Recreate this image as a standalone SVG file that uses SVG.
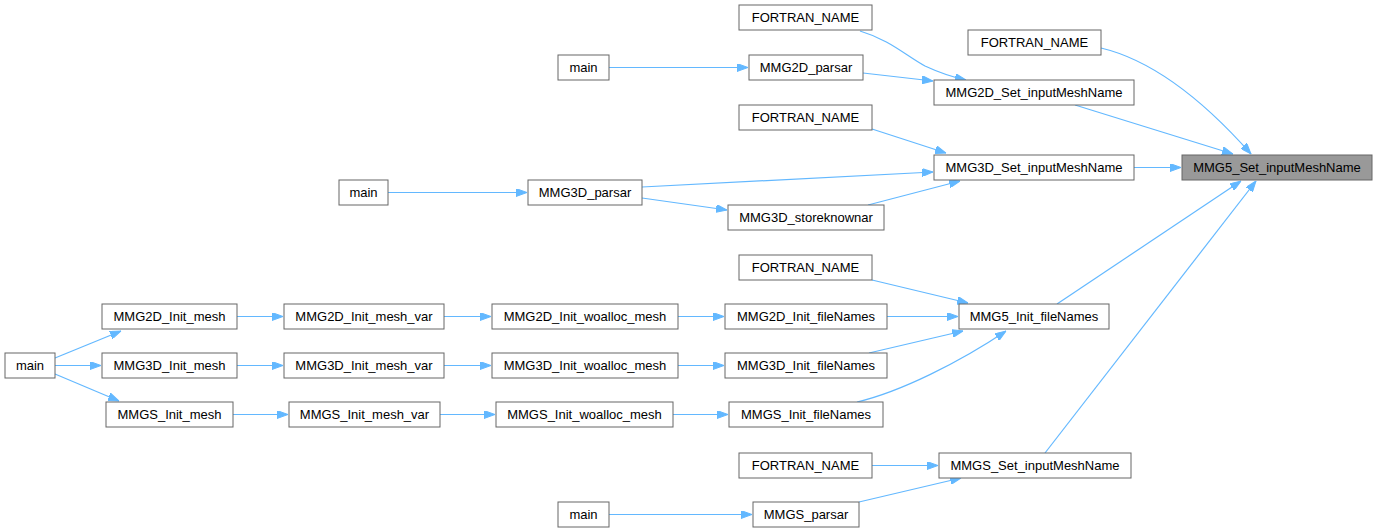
<svg xmlns="http://www.w3.org/2000/svg" width="1377" height="532" viewBox="0 0 1377 532">
<style>
.n rect{fill:#fff;stroke:#666;stroke-width:1}
.n.hl rect{fill:#999}
.n text{font-family:"Liberation Sans",Arial,sans-serif;font-size:13px;fill:#000;text-anchor:middle;dominant-baseline:central}
#edges path{fill:none;stroke:#63b8ff;stroke-width:1.2;marker-end:url(#ah)}
</style>
<defs>
<marker id="ah" viewBox="0 0 11 8" refX="11" refY="4" markerWidth="11" markerHeight="8" markerUnits="userSpaceOnUse" orient="auto">
<path d="M0,0 L11,4 L0,8 z" fill="#63b8ff" stroke="#63b8ff"/>
</marker>
</defs>
<rect width="1377" height="532" fill="#fff"/>
<g id="edges">
<path d="M860,31 C890,40 905,55 925,66 C940,73 952,77 966,80"/>
<path d="M863,73 L933,81"/>
<path d="M609,67.5 L748,67.5"/>
<path d="M1101,48 C1160,62 1212,110 1251,154"/>
<path d="M1075,105 L1233,154"/>
<path d="M872,129 L946,153"/>
<path d="M1134,167.5 L1181,167.5"/>
<path d="M388,192.5 L527,192.5"/>
<path d="M642,187 L933,172"/>
<path d="M642,198 L727,210"/>
<path d="M868,205 L960,181"/>
<path d="M1057,304 L1241,181"/>
<path d="M872,280 L968,303"/>
<path d="M887,316.5 L958,316.5"/>
<path d="M869,353 L963,331"/>
<path d="M857,402 C900,392 960,362 1006,331"/>
<path d="M1045,453 L1256,181"/>
<path d="M872,465.5 L938,465.5"/>
<path d="M859,502 L961,478"/>
<path d="M609,514.5 L752,514.5"/>
<path d="M55,358 L121,331"/>
<path d="M55,365.5 L101,365.5"/>
<path d="M55,374 L119,401"/>
<path d="M237,316.5 L283,316.5"/>
<path d="M237,365.5 L283,365.5"/>
<path d="M233,414.5 L288,414.5"/>
<path d="M444,316.5 L491,316.5"/>
<path d="M444,365.5 L491,365.5"/>
<path d="M440,414.5 L495,414.5"/>
<path d="M678,316.5 L724,316.5"/>
<path d="M678,365.5 L724,365.5"/>
<path d="M673,414.5 L728,414.5"/>
</g>
<g id="n_mmg5_set" class="n hl"><rect x="1182" y="155" width="190" height="25"/><text x="1277" y="167.5">MMG5_Set_inputMeshName</text></g>
<g id="n_fortran1" class="n"><rect x="739" y="5" width="133" height="25"/><text x="805.5" y="17.5">FORTRAN_NAME</text></g>
<g id="n_fortran2" class="n"><rect x="968" y="30" width="133" height="25"/><text x="1034.5" y="42.5">FORTRAN_NAME</text></g>
<g id="n_main1" class="n"><rect x="558" y="55" width="51" height="25"/><text x="583.5" y="67.5">main</text></g>
<g id="n_mmg2d_parsar" class="n"><rect x="749" y="55" width="114" height="25"/><text x="806" y="67.5">MMG2D_parsar</text></g>
<g id="n_mmg2d_set" class="n"><rect x="934" y="80" width="200" height="25"/><text x="1034" y="92.5">MMG2D_Set_inputMeshName</text></g>
<g id="n_fortran3" class="n"><rect x="739" y="105" width="133" height="25"/><text x="805.5" y="117.5">FORTRAN_NAME</text></g>
<g id="n_mmg3d_set" class="n"><rect x="934" y="155" width="200" height="25"/><text x="1034" y="167.5">MMG3D_Set_inputMeshName</text></g>
<g id="n_main2" class="n"><rect x="339" y="180" width="49" height="25"/><text x="363.5" y="192.5">main</text></g>
<g id="n_mmg3d_parsar" class="n"><rect x="528" y="180" width="114" height="25"/><text x="585" y="192.5">MMG3D_parsar</text></g>
<g id="n_mmg3d_store" class="n"><rect x="728" y="205" width="156" height="25"/><text x="806" y="217.5">MMG3D_storeknownar</text></g>
<g id="n_fortran4" class="n"><rect x="739" y="255" width="133" height="25"/><text x="805.5" y="267.5">FORTRAN_NAME</text></g>
<g id="n_mmg5_init" class="n"><rect x="959" y="304" width="150" height="25"/><text x="1034" y="316.5">MMG5_Init_fileNames</text></g>
<g id="n_main3" class="n"><rect x="5" y="353" width="50" height="25"/><text x="30" y="365.5">main</text></g>
<g id="n_mmg2d_init_mesh" class="n"><rect x="102" y="304" width="135" height="25"/><text x="169.5" y="316.5">MMG2D_Init_mesh</text></g>
<g id="n_mmg3d_init_mesh" class="n"><rect x="102" y="353" width="135" height="25"/><text x="169.5" y="365.5">MMG3D_Init_mesh</text></g>
<g id="n_mmgs_init_mesh" class="n"><rect x="106" y="402" width="127" height="25"/><text x="169.5" y="414.5">MMGS_Init_mesh</text></g>
<g id="n_mmg2d_mesh_var" class="n"><rect x="284" y="304" width="160" height="25"/><text x="364" y="316.5">MMG2D_Init_mesh_var</text></g>
<g id="n_mmg3d_mesh_var" class="n"><rect x="284" y="353" width="160" height="25"/><text x="364" y="365.5">MMG3D_Init_mesh_var</text></g>
<g id="n_mmgs_mesh_var" class="n"><rect x="289" y="402" width="151" height="25"/><text x="364.5" y="414.5">MMGS_Init_mesh_var</text></g>
<g id="n_mmg2d_woalloc" class="n"><rect x="492" y="304" width="186" height="25"/><text x="585" y="316.5">MMG2D_Init_woalloc_mesh</text></g>
<g id="n_mmg3d_woalloc" class="n"><rect x="492" y="353" width="186" height="25"/><text x="585" y="365.5">MMG3D_Init_woalloc_mesh</text></g>
<g id="n_mmgs_woalloc" class="n"><rect x="496" y="402" width="177" height="25"/><text x="584.5" y="414.5">MMGS_Init_woalloc_mesh</text></g>
<g id="n_mmg2d_filenames" class="n"><rect x="725" y="304" width="162" height="25"/><text x="806" y="316.5">MMG2D_Init_fileNames</text></g>
<g id="n_mmg3d_filenames" class="n"><rect x="725" y="353" width="162" height="25"/><text x="806" y="365.5">MMG3D_Init_fileNames</text></g>
<g id="n_mmgs_filenames" class="n"><rect x="729" y="402" width="154" height="25"/><text x="806" y="414.5">MMGS_Init_fileNames</text></g>
<g id="n_fortran5" class="n"><rect x="739" y="453" width="133" height="25"/><text x="805.5" y="465.5">FORTRAN_NAME</text></g>
<g id="n_mmgs_set" class="n"><rect x="939" y="453" width="192" height="25"/><text x="1035" y="465.5">MMGS_Set_inputMeshName</text></g>
<g id="n_main4" class="n"><rect x="558" y="502" width="51" height="25"/><text x="583.5" y="514.5">main</text></g>
<g id="n_mmgs_parsar" class="n"><rect x="753" y="502" width="106" height="25"/><text x="806" y="514.5">MMGS_parsar</text></g>
</svg>
